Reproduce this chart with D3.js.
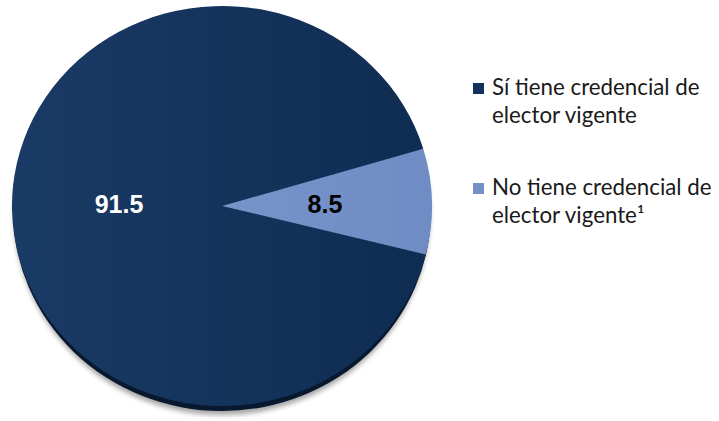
<!DOCTYPE html>
<html><head><meta charset="utf-8">
<script src="https://cdn.jsdelivr.net/npm/d3@7/dist/d3.min.js"></script>
<style>body{margin:0;background:#fff}svg{display:block}</style>
</head><body>
<svg id="c" width="719" height="421"></svg>
<script>
const categories = ["Sí tiene credencial de elector vigente", "No tiene credencial de elector vigente¹"];
const legendLines = [["Sí tiene credencial de", "elector vigente"], ["No tiene credencial de", "elector vigente¹"]];
const values = [91.5, 8.5];
const labels = ["91.5", "8.5"];
const colors = ["#13325b", "#7390c7"];
const labelColors = ["#ffffff", "#000000"];

const svg = d3.select("#c");
const cx = 222, cy = 206, rx = 210, ry = 200;
const defs = svg.append("defs");
const g1 = defs.append("linearGradient").attr("id","gd").attr("x1","0").attr("x2","1").attr("y1","0").attr("y2","0");
g1.append("stop").attr("offset","0").attr("stop-color","#1a3b66");
g1.append("stop").attr("offset","1").attr("stop-color","#0f2c52");
const g2 = defs.append("linearGradient").attr("id","gl").attr("x1","0").attr("x2","1").attr("y1","0").attr("y2","0");
g2.append("stop").attr("offset","0").attr("stop-color","#7893ca");
g2.append("stop").attr("offset","1").attr("stop-color","#6f8cc4");
const f = defs.append("filter").attr("id","blur").attr("x","-10%").attr("y","-10%").attr("width","120%").attr("height","120%");
f.append("feGaussianBlur").attr("stdDeviation", 2.5);

const fills = ["url(#gd)", "url(#gl)"];
const root = svg.append("g").attr("transform", `translate(${cx},${cy})`);
root.append("ellipse").attr("cx", 0).attr("cy", 8).attr("rx", rx - 2).attr("ry", ry + 1)
  .attr("fill", "#000").attr("opacity", 0.35).attr("filter", "url(#blur)");
root.append("ellipse").attr("cx", 0).attr("cy", 5).attr("rx", rx - 1).attr("ry", ry)
  .attr("fill", "#08182e");

const a0 = 104 * Math.PI / 180;
const pie = d3.pie().sort(null).startAngle(a0).endAngle(a0 + 2 * Math.PI);
const arcs = pie(values);
const arc = d3.arc().innerRadius(0).outerRadius(rx);
const sg = root.append("g").attr("transform", `scale(1,${ry / rx})`);
sg.selectAll("path").data(arcs).join("path")
  .attr("d", arc).attr("fill", (d, i) => fills[i]);

const labelPos = [[-103, 7], [103, 7]];
root.selectAll("text.v").data(arcs).join("text").attr("class", "v")
  .attr("x", (d, i) => labelPos[i][0]).attr("y", (d, i) => labelPos[i][1])
  .attr("text-anchor", "middle")
  .attr("font-family", "Liberation Sans, Arial, sans-serif").attr("font-weight", "bold").attr("font-size", 25)
  .attr("fill", (d, i) => labelColors[i])
  .text((d, i) => labels[i]);

const lg = svg.append("g");
const ly = [83, 183];
categories.forEach((c, i) => {
  lg.append("rect").attr("x", 473).attr("y", ly[i]).attr("width", 11).attr("height", 11).attr("fill", colors[i]);
  legendLines[i].forEach((t, j) => {
    lg.append("text").attr("x", 492).attr("y", ly[i] + 12 + j * 28)
      .attr("font-family", "Lato, sans-serif").attr("font-size", 22.3).attr("fill", "#1a1a1a")
      .text(t);
  });
});
</script>
</body></html>
